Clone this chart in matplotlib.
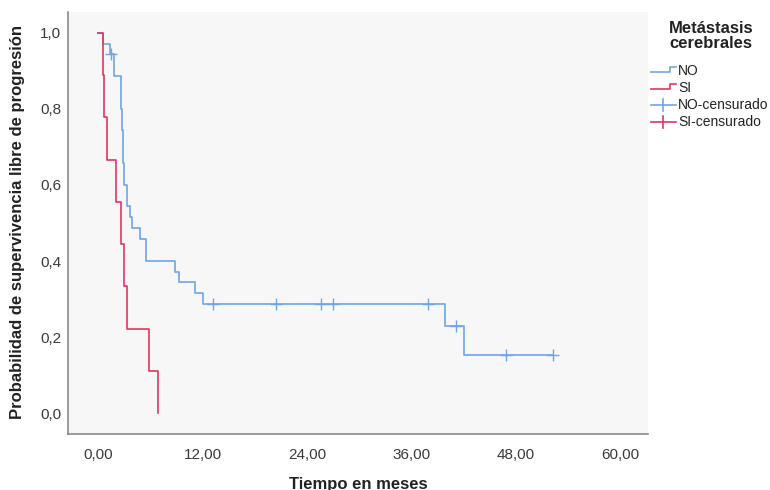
import matplotlib
matplotlib.use("Agg")
import matplotlib.pyplot as plt
from matplotlib.lines import Line2D

# ---- data ----
no_times = [0.0, 0.61, 1.38, 1.87, 2.61, 2.64, 2.68, 2.72, 2.78, 2.82, 2.88, 2.92, 2.96, 3.02,
            3.30, 3.68, 3.94, 4.83, 5.57, 8.89, 9.34, 11.15, 12.10, 39.90, 42.00, 52.30]
no_surv = [1.0, 0.972, 0.944, 0.887, 0.859, 0.830, 0.801, 0.773, 0.744, 0.716, 0.687, 0.658,
           0.630, 0.601, 0.544, 0.515, 0.486, 0.458, 0.401, 0.372, 0.344, 0.315, 0.286,
           0.229, 0.153, 0.153]
no_cens_t = [1.45, 13.18, 20.46, 25.6, 27.0, 37.97, 41.1, 46.9, 52.3]
no_cens_s = [0.944, 0.286, 0.286, 0.286, 0.286, 0.286, 0.229, 0.153, 0.153]

si_times = [0.0, 0.57, 0.69, 1.07, 2.07, 2.64, 2.99, 3.37, 5.90, 6.90]
si_surv = [1.0, 0.889, 0.778, 0.667, 0.556, 0.444, 0.333, 0.222, 0.111, 0.0]

x_ticks = [0, 12, 24, 36, 48, 60]
x_labels = ["0,00", "12,00", "24,00", "36,00", "48,00", "60,00"]
y_ticks = [0.0, 0.2, 0.4, 0.6, 0.8, 1.0]
y_labels = ["0,0", "0,2", "0,4", "0,6", "0,8", "1,0"]

legend_title = "Metástasis\ncerebrales"
legend_labels = ["NO", "SI", "NO-censurado", "SI-censurado"]

BLUE = "#6ea5e8"
RED = "#e0365f"

plt.rcParams['font.family'] = ['Liberation Sans Narrow', 'Liberation Sans', 'DejaVu Sans']

W, H = 770, 490
fig = plt.figure(figsize=(W / 100, H / 100), dpi=100)
fig.patch.set_facecolor("white")
ax = fig.add_axes([68 / W, 1 - 434 / H, (648 - 68) / W, (434 - 12) / H])
ax.set_facecolor("#f7f7f7")

ax.step(no_times, no_surv, where="post", color=BLUE, lw=1.2)
ax.step(si_times, si_surv, where="post", color=RED, lw=1.2)
ax.plot(no_cens_t, no_cens_s, linestyle="none", marker="+", ms=8, mew=1.0, color=BLUE)

ax.set_xlim(-3.45, 63.2)
ax.set_ylim(-0.055, 1.055)
ax.set_xticks(x_ticks)
ax.set_xticklabels(x_labels)
ax.set_yticks(y_ticks)
ax.set_yticklabels(y_labels)
ax.tick_params(length=0, labelsize=11, colors="#3a3a3a")
ax.tick_params(axis="x", pad=10)
ax.tick_params(axis="y", pad=5)
for s in ["top", "right"]:
    ax.spines[s].set_visible(False)
for s in ["left", "bottom"]:
    ax.spines[s].set_color("#8a8a8a")
    ax.spines[s].set_linewidth(1.2)

fig.text(358 / W, 1 - 484 / H, "Tiempo en meses", ha="center", va="center",
         fontsize=12, fontweight="bold", family=['Liberation Sans', 'DejaVu Sans'], color="#222222")
fig.text(18 / W, 1 - 222 / H, "Probabilidad de supervivencia libre de progresión", ha="center",
         va="center", rotation=90, fontsize=12, fontweight="bold",
         family=['Liberation Sans', 'DejaVu Sans'], color="#222222")

# legend drawn manually
fig.text(711 / W, 1 - 36 / H, legend_title, ha="center", va="center", fontsize=12,
         fontweight="bold", family=['Liberation Sans', 'DejaVu Sans'], color="#222222",
         linespacing=0.95)
ys = [71, 88, 105, 122]
cols = [BLUE, RED, BLUE, RED]
for i, (lab, yy, c) in enumerate(zip(legend_labels, ys, cols)):
    if i < 2:
        xs = [651 / W, 670 / W, 670 / W, 676 / W]
        yv = [1 - (yy + 1) / H, 1 - (yy + 1) / H, 1 - (yy - 4) / H, 1 - (yy - 4) / H]
        fig.add_artist(Line2D(xs, yv, color=c, lw=1.2, transform=fig.transFigure))
    else:
        fig.add_artist(Line2D([651 / W, 676 / W], [1 - yy / H, 1 - yy / H], color=c, lw=1.2,
                              transform=fig.transFigure))
        fig.add_artist(Line2D([663 / W, 663 / W], [1 - (yy - 6) / H, 1 - (yy + 6) / H], color=c,
                              lw=1.2, transform=fig.transFigure))
    fig.text(678 / W, 1 - yy / H, lab, ha="left", va="center", fontsize=10, color="#222222",
             family=['Liberation Sans', 'DejaVu Sans'])

fig.savefig("out.png", dpi=100)
